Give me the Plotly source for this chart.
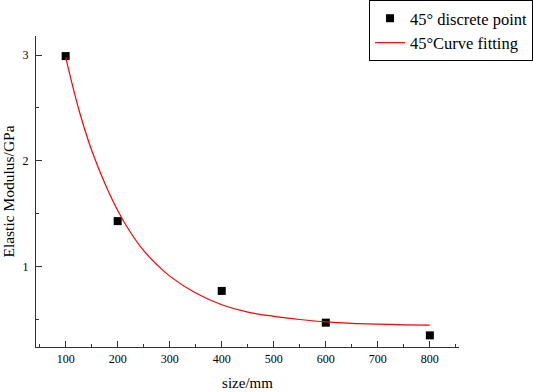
import plotly.graph_objects as go

# discrete points
size_pts = [100, 200, 400, 600, 800]
modulus_pts = [2.99, 1.43, 0.77, 0.47, 0.35]

# fitted curve
size_fit = [100, 125, 150, 175, 200, 225, 250, 275, 300, 350, 400, 450, 500, 550, 600, 650, 700, 750, 800]
modulus_fit = [2.98, 2.49, 2.10, 1.79, 1.53, 1.32, 1.15, 1.02, 0.91, 0.75, 0.64, 0.57, 0.53, 0.50, 0.477, 0.464, 0.456, 0.450, 0.447]

x_ticks = [100, 200, 300, 400, 500, 600, 700, 800]
y_ticks = [1, 2, 3]

font = "Liberation Serif"

fig = go.Figure()
fig.add_trace(go.Scatter(x=size_pts, y=modulus_pts, mode="markers",
                         marker=dict(symbol="square", size=8, color="black"),
                         name="45° discrete point"))
fig.add_trace(go.Scatter(x=size_fit, y=modulus_fit, mode="lines",
                         line=dict(color="red", width=1.2, shape="spline"),
                         name="45°Curve fitting"))

fig.update_layout(
    width=533, height=392,
    margin=dict(l=36, r=74, t=36, b=45, autoexpand=False),
    paper_bgcolor="white", plot_bgcolor="white",
    font=dict(family=font, color="black", size=12),
    showlegend=True,
    legend=dict(x=1 + 74 / 423, y=1 + 36 / 311, xanchor="right", yanchor="top",
                bordercolor="black", borderwidth=1, bgcolor="white",
                font=dict(family=font, size=16.5), tracegroupgap=0,
                itemwidth=30),
    xaxis=dict(range=[43, 856], tickvals=x_ticks, ticks="inside", ticklen=6,
               tickcolor="#333", showline=True, linecolor="#333", linewidth=1.2,
               showgrid=False, zeroline=False, automargin=False,
               minor=dict(dtick=50, tick0=0, ticks="inside", ticklen=3, tickcolor="#333"),
               tickfont=dict(family=font, size=12),
               title=dict(text="size/mm", font=dict(family=font, size=15), standoff=12)),
    yaxis=dict(range=[0.24, 3.18], tickvals=y_ticks, ticks="inside", ticklen=6,
               tickcolor="#333", showline=True, linecolor="#333", linewidth=1.2,
               showgrid=False, zeroline=False, automargin=False,
               ticklabelstandoff=4,
               minor=dict(dtick=0.5, tick0=0, ticks="inside", ticklen=3, tickcolor="#333"),
               tickfont=dict(family=font, size=12),
               title=dict(text="Elastic Modulus/GPa", font=dict(family=font, size=15.5), standoff=4)),
)

fig.write_html("out.html", config={"displayModeBar": False},
               post_script="document.body.style.margin='0';")
